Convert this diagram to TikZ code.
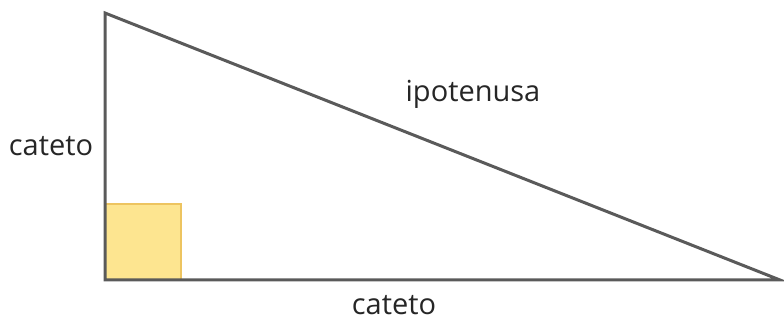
\documentclass[tikz,border=0pt]{standalone}
\usepackage{fontspec}
\setmainfont{Open Sans}
\definecolor{edgegray}{HTML}{5A5A5A}
\definecolor{sqfill}{HTML}{FDE590}
\definecolor{sqdraw}{HTML}{EDC460}
\tikzset{
  side/.style={draw=edgegray, line width=3pt, line join=miter},
  lbl/.style={font=\fontsize{29}{34}\selectfont, text=black!85, inner sep=0pt},
  rightsq/.style={fill=sqfill, draw=sqdraw, line width=2pt}
}
\begin{document}
\begin{tikzpicture}[x=1pt,y=-1pt]
\useasboundingbox (0,0) rectangle (784,320);
\coordinate (A) at (105,13);
\coordinate (B) at (105,280);
\coordinate (C) at (780,280);
\coordinate (S1) at (105,204);
\coordinate (S2) at (181,280);
\draw[rightsq] (S1) rectangle (S2);
\draw[side] (A) -- (B) -- (C) -- cycle;
\node[lbl] (lc) at (51,146) {cateto};
\node[lbl] (hyp) at (473,94) {ipotenusa};
\node[lbl] (bc) at (394,305) {cateto};
\end{tikzpicture}
\end{document}
